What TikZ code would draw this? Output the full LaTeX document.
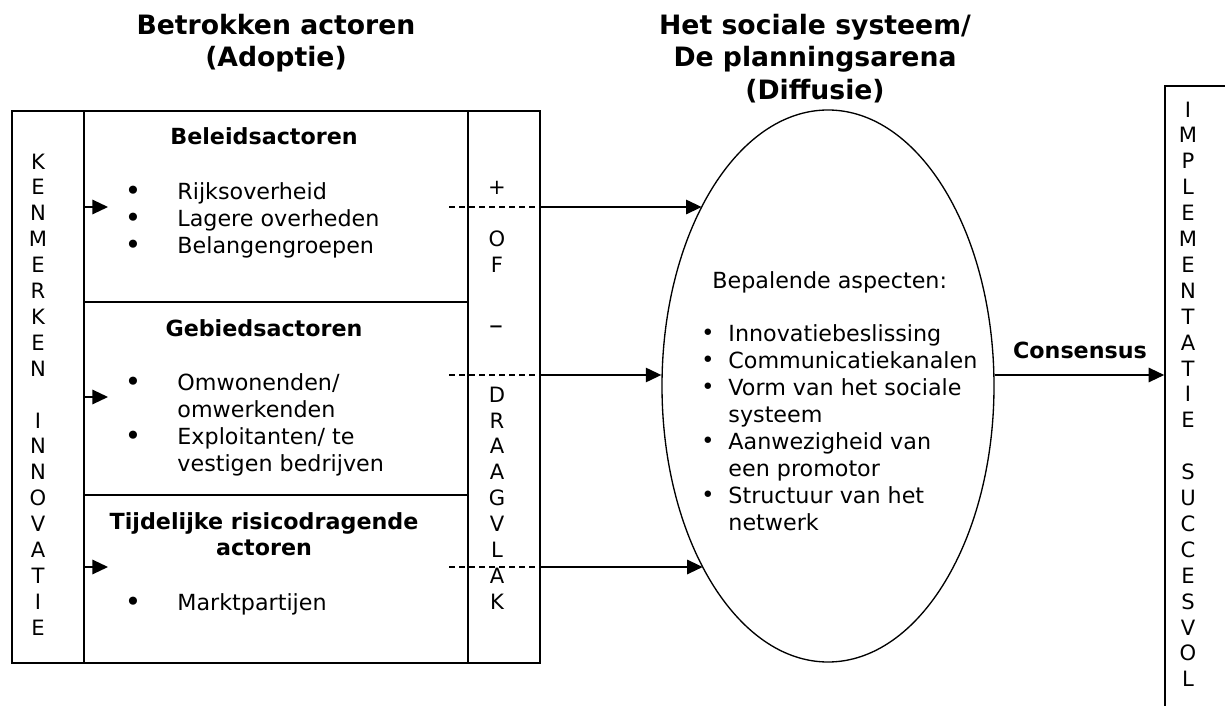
\documentclass[tikz,border=0pt]{standalone}
\usepackage{fontspec}
\setmainfont{DejaVu Sans}
\usetikzlibrary{arrows.meta,shapes.geometric,intersections,fit}
\begin{document}
\begin{tikzpicture}[x=0.45pt,y=-0.45pt,
  frame/.style={draw, line width=0.7pt, inner sep=0pt, rectangle},
  body/.style={font=\fontsize{10}{12}\selectfont, inner sep=0pt},
  head/.style={font=\fontsize{10}{12}\selectfont\bfseries, inner sep=0pt, anchor=mid},
  ttl/.style={font=\fontsize{12}{14}\selectfont\bfseries, inner sep=0pt, anchor=mid},
  vlet/.style={font=\fontsize{9.5}{11}\selectfont, inner sep=0pt, anchor=mid},
  arr/.style={line width=0.7pt, -{Triangle[length=7pt,width=6.5pt]}},
  dsh/.style={line width=0.7pt, dash pattern=on 2.7pt off 1.8pt},
  bul/.style={font=\fontsize{12.5}{14}\selectfont, inner sep=0pt, anchor=center},
  ebul/.style={body, anchor=center},
  item/.style={body, anchor=mid west}]
\useasboundingbox (0,0) rectangle (1225,706);

% boxes
\node[frame, fit={(12,111)(84,663)}] (ken) {};
\node[frame, fit={(84,111)(468,302)}] (bel) {};
\node[frame, fit={(84,302)(468,495)}] (geb) {};
\node[frame, fit={(84,495)(468,663)}] (tij) {};
\node[frame, fit={(468,111)(540,663)}] (drv) {};
\node[frame, fit={(1165,86)(1250,730)}] (imp) {};
\node[draw, line width=0.6pt, ellipse, inner sep=0pt, minimum width=149.4pt, minimum height=248.4pt, name path=ell] (ell) at (828,386) {};

% titles
\node[ttl] (t1) at (276,28) {Betrokken actoren};
\node[ttl] (t2) at (276,60) {(Adoptie)};
\node[ttl] (t3) at (815,28) {Het sociale systeem/};
\node[ttl] (t4) at (815,60) {De planningsarena};
\node[ttl] (t5) at (815,93) {(Diffusie)};

% vertical letters
\foreach \c [count=\i from 0] in {K,E,N,M,E,R,K,E,N,{},I,N,N,O,V,A,T,I,E}
  \node[vlet] (k\i) at (38,{163+25.9*\i}) {\c};
\foreach \c [count=\i from 0] in {{},+,{},O,F,{},{},{},{},D,R,A,A,G,V,L,A,K}
  \node[vlet] (v\i) at (497,{163+25.9*\i}) {\c};
\node[font=\fontsize{12.5}{14}\selectfont, inner sep=0pt, anchor=mid] (vdash) at (496,328) {–};
\foreach \c [count=\i from 0] in {I,M,P,L,E,M,E,N,T,A,T,I,E,{},S,U,C,C,E,S,V,O,L}
  \node[vlet] (m\i) at (1188,{111+25.9*\i}) {\c};

% Beleidsactoren
\node[head] (h1) at (264,138) {Beleidsactoren};
\node[bul] (b11) at (133,193) {•};
\node[item] (i11) at (177,193) {Rijksoverheid};
\node[bul] (b12) at (133,220) {•};
\node[item] (i12) at (177,220) {Lagere overheden};
\node[bul] (b13) at (133,247) {•};
\node[item] (i13) at (177,247) {Belangengroepen};

% Gebiedsactoren
\node[head] (h2) at (264,330) {Gebiedsactoren};
\node[bul] (b21) at (133,384) {•};
\node[item] (i21) at (177,384) {Omwonenden/};
\node[item] (i22) at (177,411) {omwerkenden};
\node[bul] (b23) at (133,438) {•};
\node[item] (i23) at (177,438) {Exploitanten/ te};
\node[item] (i24) at (177,465) {vestigen bedrijven};

% Tijdelijke
\node[head] (h3) at (264,523) {Tijdelijke risicodragende};
\node[head] (h4) at (264,549) {actoren};
\node[bul] (b31) at (133,604) {•};
\node[item] (i31) at (177,604) {Marktpartijen};

% ellipse text
\node[item] (e0) at (712,282) {Bepalende aspecten:};
\node[ebul] (eb1) at (708,335) {•};
\node[item] (e1) at (728,335) {Innovatiebeslissing};
\node[ebul] (eb2) at (708,362) {•};
\node[item] (e2) at (728,362) {Communicatiekanalen};
\node[ebul] (eb3) at (708,389) {•};
\node[item] (e3) at (728,389) {Vorm van het sociale};
\node[item] (e4) at (728,416) {systeem};
\node[ebul] (eb5) at (708,443) {•};
\node[item] (e5) at (728,443) {Aanwezigheid van};
\node[item] (e6) at (728,470) {een promotor};
\node[ebul] (eb7) at (708,497) {•};
\node[item] (e7) at (728,497) {Structuur van het};
\node[item] (e8) at (728,524) {netwerk};

% left short arrows
\coordinate (a1s) at (84,207); \coordinate (a1e) at (108,207);
\coordinate (a2s) at (84,397); \coordinate (a2e) at (108,397);
\coordinate (a3s) at (84,567); \coordinate (a3e) at (108,567);
\draw[arr] (a1s) -- (a1e);
\draw[arr] (a2s) -- (a2e);
\draw[arr] (a3s) -- (a3e);

% dashed and arrows to ellipse
\coordinate (d1s) at (449,207); \coordinate (d1e) at (540,207);
\coordinate (d2s) at (449,375); \coordinate (d2e) at (540,375);
\coordinate (d3s) at (449,567); \coordinate (d3e) at (540,567);
\draw[dsh] (d1s) -- (d1e);
\draw[dsh] (d2s) -- (d2e);
\draw[dsh] (d3s) -- (d3e);
\path[name path=h1p] (d1e) -- (900,207);
\path[name path=h3p] (d3e) -- (900,567);
\draw[arr, name intersections={of=ell and h1p, by=p1}] (d1e) -- (p1);
\draw[arr] (d2e) -- (d2e -| ell.west);
\draw[arr, name intersections={of=ell and h3p, by=p3}] (d3e) -- (p3);

% consensus
\draw[arr] (d2e -| ell.east) -- (d2e -| imp.west);
\node[head] (cons) at (1080,352) {Consensus};
\end{tikzpicture}
\end{document}
